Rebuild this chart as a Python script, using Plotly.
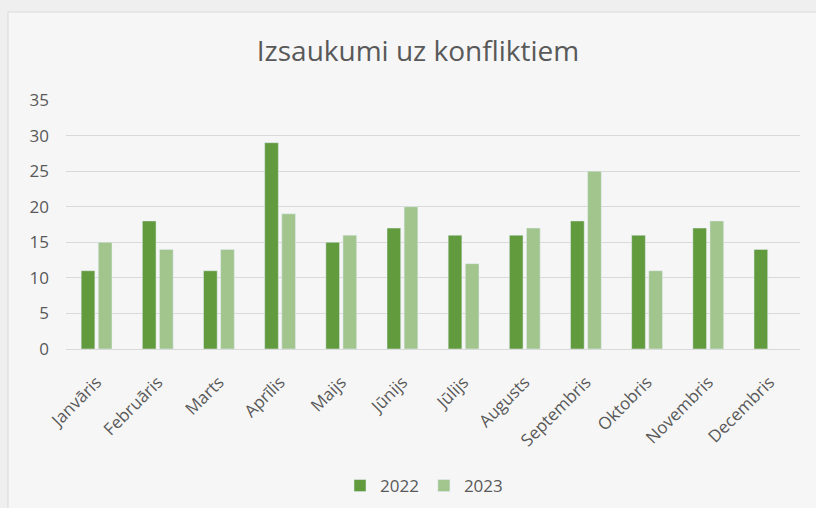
import plotly.graph_objects as go

months = ["Janvāris", "Februāris", "Marts", "Aprīlis", "Maijs", "Jūnijs",
          "Jūlijs", "Augusts", "Septembris", "Oktobris", "Novembris", "Decembris"]
values_2022 = [11, 18, 11, 29, 15, 17, 16, 16, 18, 16, 17, 14]
values_2023 = [15, 14, 14, 19, 16, 20, 12, 17, 25, 11, 18, None]

W, H = 816, 508
L, R, T, B = 66, 16, 100, 159
pw, ph = W - L - R, H - T - B

def px(x):
    return (x - L) / pw

def py(y):
    return (H - B - y) / ph

FONT = "Open Sans, Lato, sans-serif"
TXT = "#595959"

fig = go.Figure()
fig.add_trace(go.Bar(x=months, y=values_2022, name="2022", marker_color="#629a3e"))
fig.add_trace(go.Bar(x=months, y=values_2023, name="2023", marker_color="#a2c58e"))

fig.update_layout(
    width=W, height=H,
    margin=dict(l=L, r=R, t=T, b=B, autoexpand=False),
    paper_bgcolor="#efefef",
    plot_bgcolor="#f6f6f6",
    font=dict(family=FONT, color=TXT, size=16),
    title=dict(text="Izsaukumi uz konfliktiem", x=418 / W, xanchor="center",
               y=1 - 51 / H, yanchor="middle",
               font=dict(size=28, color=TXT, family=FONT)),
    barmode="group", bargap=0.44, bargroupgap=0.2,
    showlegend=True,
    legend=dict(orientation="h", x=px(424), xanchor="center", y=py(486), yanchor="middle",
                font=dict(size=17, color=TXT, family=FONT), bgcolor="rgba(0,0,0,0)",
                itemwidth=30),
    xaxis=dict(tickangle=-45, showgrid=False, showline=False, ticks="",
               automargin=False, ticklabelstandoff=19,
               tickfont=dict(size=17, color=TXT, family=FONT)),
    yaxis=dict(range=[0, 35], dtick=5, showgrid=True, gridcolor="#d9d9d9", gridwidth=1,
               zeroline=True, zerolinecolor="#d9d9d9", zerolinewidth=1,
               automargin=False, ticklabelstandoff=16,
               showline=False, ticks="", tickfont=dict(size=17, color=TXT, family=FONT)),
    shapes=[dict(type="rect", xref="paper", yref="paper", layer="below",
                 x0=px(8), x1=px(W + 5), y0=py(H + 5), y1=py(12),
                 fillcolor="#f6f6f6", line=dict(color="#d9d9d9", width=1))],
)

fig.write_html("out.html", config={"displayModeBar": False},
               post_script="document.body.style.margin='0';")
